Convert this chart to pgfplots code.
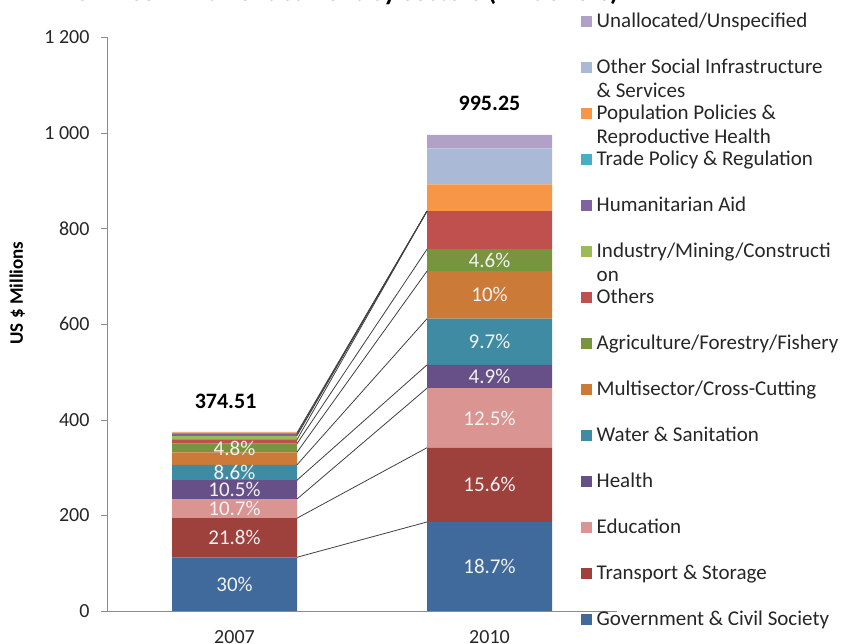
\documentclass[border=0pt]{standalone}
\usepackage{fontspec}
\setmainfont{Carlito}
\usepackage{pgfplots}
\pgfplotsset{compat=1.18}
\definecolor{cGov}{HTML}{406A9C}
\definecolor{cTra}{HTML}{9E403C}
\definecolor{cEdu}{HTML}{DA9492}
\definecolor{cHea}{HTML}{675087}
\definecolor{cWat}{HTML}{3E8BA3}
\definecolor{cMul}{HTML}{CC7A37}
\definecolor{cAgr}{HTML}{78943E}
\definecolor{cOth}{HTML}{C0504D}
\definecolor{cInd}{HTML}{9BBB59}
\definecolor{cHum}{HTML}{8064A2}
\definecolor{cTrd}{HTML}{4BACC6}
\definecolor{cPop}{HTML}{F79646}
\definecolor{cSoc}{HTML}{A9B9D6}
\definecolor{cUna}{HTML}{B1A1C7}
\newcommand\ls{\rule[-17bp]{0pt}{46bp}}
\newcommand\two[2]{\smash{\begin{tabular}[t]{@{}l@{}}#1\\#2\end{tabular}}}
\begin{document}
\begin{tikzpicture}
\pgfplotsset{
  common/.style={
    at={(107bp,33bp)}, anchor=south west, scale only axis,
    width=510bp, height=574bp,
    xmin=-0.5, xmax=1.5, ymin=0, ymax=1200,
  }
}
\begin{axis}[
  common,
  ybar stacked, bar width=125bp,
  axis lines*=left,
  axis line style={color=black!45},
  xtick={0,1}, xticklabels={2007,2010},
  x tick style={draw=none},
  xticklabel style={font=\fontsize{20bp}{24bp}\selectfont, yshift=-10bp, text=black!85},
  ytick={0,200,...,1200},
  tick align=outside, major tick length=6bp,
  y tick style={color=black!45},
  yticklabel style={font=\fontsize{20bp}{24bp}\selectfont, xshift=-8bp, text=black!85},
  /pgf/number format/1000 sep={\ },
  /pgf/number format/assume math mode=true,
  ylabel={US \$ Millions},
  ylabel style={font=\bfseries\fontsize{19bp}{22bp}\selectfont, at={(axis description cs:-0.176,0.554)}, anchor=center},
  title={ODA commitment current by sectors (All donors)},
  title style={font=\bfseries\fontsize{27bp}{32bp}\selectfont, at={(axis description cs:0.4686,1.0531)}, anchor=base},
  reverse legend,
  legend cell align=left,
  legend style={draw=none, fill=none, inner sep=0pt, row sep=0pt, column sep=4.5bp,
    at={(axis description cs:0.9294,1.068)}, anchor=north west,
    font=\fontsize{21bp}{24bp}\selectfont, text=black!85,
    nodes={inner sep=0pt, text depth=17bp},
    cells={anchor=base west}},
  legend image code/.code={\fill[#1, draw=none] (0bp,0bp) rectangle (11bp,11bp);},
]
\addplot[fill=cGov, draw=none] coordinates {(0,112.35) (1,186.11)};
\addlegendentry{\ls Government \& Civil Society}
\addplot[fill=cTra, draw=none] coordinates {(0,81.64) (1,155.26)};
\addlegendentry{\ls Transport \& Storage}
\addplot[fill=cEdu, draw=none] coordinates {(0,40.07) (1,124.41)};
\addlegendentry{\ls Education}
\addplot[fill=cHea, draw=none] coordinates {(0,39.32) (1,48.77)};
\addlegendentry{\ls Health}
\addplot[fill=cWat, draw=none] coordinates {(0,32.21) (1,96.54)};
\addlegendentry{\ls Water \& Sanitation}
\addplot[fill=cMul, draw=none] coordinates {(0,26.20) (1,99.53)};
\addlegendentry{\ls Multisector/Cross-Cutting}
\addplot[fill=cAgr, draw=none] coordinates {(0,17.98) (1,45.78)};
\addlegendentry{\ls Agriculture/Forestry/Fishery}
\addplot[fill=cOth, draw=none] coordinates {(0,8.50) (1,79.70)};
\addlegendentry{\ls Others}
\addplot[fill=cInd, draw=none] coordinates {(0,8.30) (1,0)};
\addlegendentry{\ls \two{Industry/Mining/Constructi}{on}}
\addplot[fill=cHum, draw=none] coordinates {(0,3.00) (1,0)};
\addlegendentry{\ls Humanitarian Aid}
\addplot[fill=cTrd, draw=none] coordinates {(0,3.00) (1,0)};
\addlegendentry{\ls Trade Policy \& Regulation}
\addplot[fill=cPop, draw=none] coordinates {(0,0.70) (1,56.00)};
\addlegendentry{\ls \two{Population Policies \&}{Reproductive Health}}
\addplot[fill=cSoc, draw=none] coordinates {(0,0.70) (1,74.80)};
\addlegendentry{\ls \two{Other Social Infrastructure}{\& Services}}
\addplot[fill=cUna, draw=none] coordinates {(0,0.54) (1,28.35)};
\addlegendentry{\ls Unallocated/Unspecified}
\end{axis}
\begin{axis}[common, hide axis, clip=false]
\pgfplotsset{conn/.style={draw=black!75, line width=0.8bp, mark=none}}
\addplot[conn] coordinates {(0.245,112.35) (0.755,186.11)};
\addplot[conn] coordinates {(0.245,193.99) (0.755,341.37)};
\addplot[conn] coordinates {(0.245,234.06) (0.755,465.78)};
\addplot[conn] coordinates {(0.245,273.38) (0.755,514.55)};
\addplot[conn] coordinates {(0.245,305.59) (0.755,611.09)};
\addplot[conn] coordinates {(0.245,331.79) (0.755,710.62)};
\addplot[conn] coordinates {(0.245,349.77) (0.755,756.40)};
\addplot[conn] coordinates {(0.245,358.27) (0.755,836.10)};
\addplot[conn] coordinates {(0.245,366.57) (0.755,836.10)};
\addplot[conn] coordinates {(0.245,369.57) (0.755,836.10)};
\addplot[conn] coordinates {(0.245,372.57) (0.755,836.10)};
\addplot[draw=none, mark=none, nodes near coords, point meta=explicit symbolic,
  nodes near coords style={anchor=center, inner sep=0pt, text=white!95!black, font=\fontsize{21bp}{24bp}\selectfont}]
  coordinates {
  (0,56.2) [30\%]
  (0,153.2) [21.8\%]
  (0,214.0) [10.7\%]
  (0,253.7) [10.5\%]
  (0,289.5) [8.6\%]
  (0,340.8) [4.8\%]
  (1,93.1) [18.7\%]
  (1,263.7) [15.6\%]
  (1,403.6) [12.5\%]
  (1,490.2) [4.9\%]
  (1,562.8) [9.7\%]
  (1,660.9) [10\%]
  (1,733.5) [4.6\%]
  };
\addplot[draw=none, mark=none, nodes near coords, point meta=explicit symbolic,
  nodes near coords style={anchor=center, inner sep=0pt, text=black, font=\bfseries\fontsize{22bp}{26bp}\selectfont}]
  coordinates {
  (-0.035,439) [374.51]
  (1,1062) [995.25]
  };
\end{axis}
\pgfresetboundingbox
\useasboundingbox (0,0) rectangle (845bp,644bp);
\end{tikzpicture}
\end{document}
